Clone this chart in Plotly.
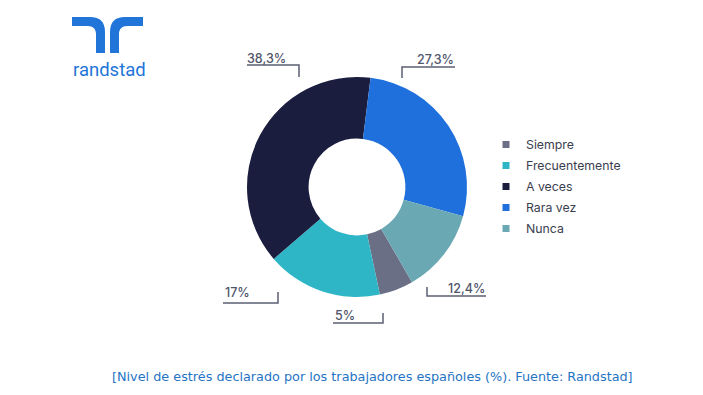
import plotly.graph_objects as go

# ---- data ----
categories = ["Siempre", "Frecuentemente", "A veces", "Rara vez", "Nunca"]
values = [5.0, 17.0, 38.3, 27.3, 12.4]
caption = "[Nivel de estrés declarado por los trabajadores españoles (%). Fuente: Randstad]"
brand = "randstad"

# ---- style ----
colors = ["#6b6f86", "#2fb6c6", "#1b1d3f", "#1f70dc", "#6aa8b4"]
W, H = 703, 395
CX, CY, R = 357, 187, 110
HOLE = 0.44
LABEL_GREY = "#50556a"
LINE_GREY = "#5b5f72"
BLUE = "#2175d9"

# label placements (pixel coords): text anchor x, y, xanchor, leader path
label_layout = {
    "A veces": dict(x=245, y=58, xanchor="left", path="M247,65 H299 V77"),
    "Rara vez": dict(x=456, y=59, xanchor="right", path="M402,78 V67 H455"),
    "Frecuentemente": dict(x=223, y=292, xanchor="left", path="M223,303 H278 V292"),
    "Siempre": dict(x=333, y=315, xanchor="left", path="M333,323 H383 V313"),
    "Nunca": dict(x=487, y=288, xanchor="right", path="M427,287 V296 H486"),
}


def fmt(v):
    return f"{v:g}".replace(".", ",") + "%"


fig = go.Figure()

fig.add_trace(go.Pie(
    labels=categories,
    values=values,
    marker=dict(colors=colors, line=dict(width=0)),
    hole=HOLE,
    sort=False,
    direction="clockwise",
    rotation=150,
    textinfo="none",
    showlegend=False,
    domain=dict(x=[(CX - R) / W, (CX + R) / W], y=[1 - (CY + R) / H, 1 - (CY - R) / H]),
))

# legend entries (small square markers)
for cat, col in zip(categories, colors):
    fig.add_trace(go.Scatter(
        x=[None], y=[None], mode="markers",
        marker=dict(symbol="square", size=7, color=col),
        name=cat, legendgroup=cat, showlegend=True, hoverinfo="skip",
    ))

annotations = []
shapes = []
for cat, v in zip(categories, values):
    L = label_layout[cat]
    annotations.append(dict(
        x=L["x"], y=L["y"], xref="x", yref="y", text=fmt(v), showarrow=False,
        xanchor=L["xanchor"], yanchor="middle",
        font=dict(family="Inter", size=12.5, color=LABEL_GREY, weight=500),
    ))
    shapes.append(dict(type="path", path=L["path"], xref="x", yref="y",
                       line=dict(color=LINE_GREY, width=1.5)))

# logo
shapes.append(dict(type="path", xref="x", yref="y", fillcolor=BLUE, line=dict(width=0),
                   path="M72,17 L90,17 C100,17 105,22 105,32 L105,53 L96,53 L96,34 C96,29 93,26 88,26 L72,26 Z"))
shapes.append(dict(type="path", xref="x", yref="y", fillcolor=BLUE, line=dict(width=0),
                   path="M143,17 L125,17 C115,17 110,22 110,32 L110,53 L119,53 L119,34 C119,29 122,26 127,26 L143,26 Z"))
annotations.append(dict(x=71, y=70, xref="x", yref="y", text=brand, showarrow=False,
                        xanchor="left", yanchor="middle",
                        font=dict(family="Roboto", size=18.5, color=BLUE)))

annotations.append(dict(x=372, y=376, xref="x", yref="y", text=caption, showarrow=False,
                        xanchor="center", yanchor="middle",
                        font=dict(family="DejaVu Sans", size=12.8, color="#1f74c4")))

fig.update_layout(
    width=W, height=H,
    margin=dict(l=0, r=0, t=0, b=0),
    paper_bgcolor="white", plot_bgcolor="white",
    xaxis=dict(range=[0, W], visible=False, fixedrange=True, domain=[0, 1]),
    yaxis=dict(range=[H, 0], visible=False, fixedrange=True, domain=[0, 1]),
    showlegend=True,
    legend=dict(x=486 / W, y=1 - 130 / H, xanchor="left", yanchor="top",
                tracegroupgap=2, bgcolor="rgba(0,0,0,0)",
                font=dict(family="Inter", size=12.3, color="#3b3e50")),
    annotations=annotations,
    shapes=shapes,
)

fig.write_html("out.html", config={"displayModeBar": False},
               post_script="document.body.style.margin='0px';")
